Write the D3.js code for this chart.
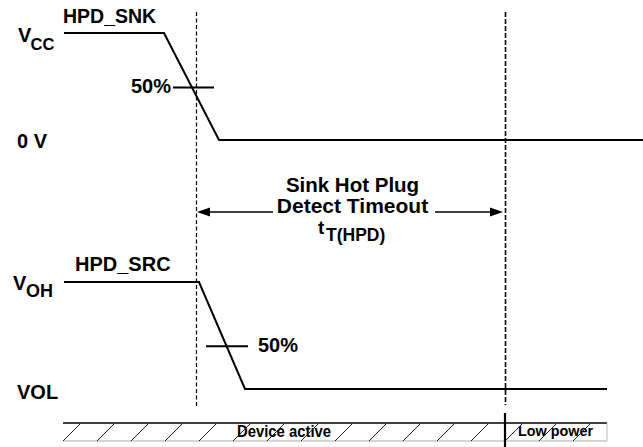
<!DOCTYPE html>
<html><head><meta charset="utf-8">
<script src="https://cdn.jsdelivr.net/npm/d3@7"></script>
<style>
html,body{margin:0;padding:0;background:#fff;}
svg{display:block;font-family:"Liberation Sans",Arial,sans-serif;font-weight:bold;}
</style></head>
<body>
<svg id="c" width="643" height="447"></svg>
<script>
// ---- data (time units, levels 0..1) ----
const snkTimes  = [0, 100, 155, 579];
const snkLevels = [1, 1, 0, 0];
const srcTimes  = [0, 135, 181, 543];
const srcLevels = [1, 1, 0, 0];
const refTimes  = [132, 441];           // dashed reference instants
const markStart = [109, 142];           // 50% marker ticks (snk, src)
const markEnd   = [150, 184];
const markLevel = [0.49, 0.40];
const phaseNames = ["Device active", "Low power"];
const phaseStart = [-1, 441];
const phaseEnd   = [441, 543];
const timeoutLabel = ["Sink Hot Plug", "Detect Timeout"];

const svg = d3.select("#c");
const x = d3.scaleLinear().domain([0, 580]).range([64, 644]);
const ySnk = d3.scaleLinear().domain([0, 1]).range([140, 33]);
const ySrc = d3.scaleLinear().domain([0, 1]).range([389, 282]);

const line = (ys) => d3.line().x(d => x(d[0])).y(d => ys(d[1]));

// waveforms
svg.append("path").datum(d3.zip(snkTimes, snkLevels))
  .attr("d", line(ySnk)).attr("fill", "none").attr("stroke", "#000").attr("stroke-width", 2);
svg.append("path").datum(d3.zip(srcTimes, srcLevels))
  .attr("d", line(ySrc)).attr("fill", "none").attr("stroke", "#000").attr("stroke-width", 2);

// dashed reference lines
svg.selectAll(".ref").data(refTimes).join("line")
  .attr("x1", d => Math.round(x(d)) + 0.5).attr("x2", d => Math.round(x(d)) + 0.5)
  .attr("y1", 12).attr("y2", (d, i) => i === 0 ? 407 : 405)
  .attr("stroke", "#000").attr("stroke-width", (d, i) => i === 0 ? 1.2 : 1.6)
  .attr("stroke-dasharray", (d, i) => i === 0 ? "4,2.5" : "5,2");

// 50% marker ticks
const yMarks = [ySnk, ySrc];
svg.selectAll(".mk").data(markLevel).join("line")
  .attr("x1", (d, i) => x(markStart[i])).attr("x2", (d, i) => x(markEnd[i]))
  .attr("y1", (d, i) => yMarks[i](d)).attr("y2", (d, i) => yMarks[i](d))
  .attr("stroke", "#000").attr("stroke-width", 2);

// labels
function txt(s, px, py, size, anchor) {
  return svg.append("text").attr("x", px).attr("y", py)
    .attr("font-size", size).attr("text-anchor", anchor || "start").text(s);
}
txt("HPD_SNK", 63, 23, 19.5);
txt("V", 18, 42, 20); txt("CC", 30.5, 50, 16.5);
txt("50%", x(markStart[0]) - 42, 93, 20);
txt("0 V", 17, 148, 20);
txt("HPD_SRC", 75, 271, 20);
txt("V", 13, 290, 20); txt("OH", 26, 297, 18);
txt("50%", x(markEnd[1]) + 10, 352, 20);
txt("VOL", 17, 399, 20);

// timeout arrow
const xa = x(refTimes[0]) + 1, xb = x(refTimes[1]) - 2, ya = 212;
svg.append("line").attr("x1", xa + 8).attr("x2", 273).attr("y1", ya).attr("y2", ya)
  .attr("stroke", "#000").attr("stroke-width", 1.5);
svg.append("line").attr("x1", 435).attr("x2", xb - 8).attr("y1", ya).attr("y2", ya)
  .attr("stroke", "#000").attr("stroke-width", 1.5);
svg.append("path").attr("d", `M${xa},${ya} L${xa + 13},${ya - 4.5} L${xa + 13},${ya + 4.5} Z`).attr("fill", "#000");
svg.append("path").attr("d", `M${xb},${ya} L${xb - 13},${ya - 4.5} L${xb - 13},${ya + 4.5} Z`).attr("fill", "#000");
const cx = (x(refTimes[0]) + x(refTimes[1])) / 2 + 2;
txt(timeoutLabel[0], cx, 191.5, 20.5, "middle");
txt(timeoutLabel[1], cx, 212.5, 21, "middle");
txt("t", 318, 234, 19);
txt("T(HPD)", 326, 241, 17.5);

// phase bar
const yTop = 423, yBot = 441;
const x0 = x(phaseStart[0]), x1 = x(phaseEnd[1]);
svg.append("line").attr("x1", x0).attr("x2", x1).attr("y1", yTop).attr("y2", yTop)
  .attr("stroke", "#000").attr("stroke-width", 1.5);
svg.append("line").attr("x1", x0).attr("x2", x1).attr("y1", yBot).attr("y2", yBot)
  .attr("stroke", "#aaa").attr("stroke-width", 1.2);
svg.append("line").attr("x1", x1).attr("x2", x1).attr("y1", yTop).attr("y2", yBot)
  .attr("stroke", "#bbb").attr("stroke-width", 1);
svg.selectAll(".ph").data(phaseNames).join("text")
  .attr("x", (d, i) => i === 0 ? 237 : 518).attr("y", (d, i) => i === 0 ? 437 : 435.5)
  .attr("font-size", (d, i) => i === 0 ? 16 : 15)
  .attr("textLength", (d, i) => i === 0 ? 94 : 75).attr("lengthAdjust", "spacingAndGlyphs")
  .text(d => d);
svg.selectAll(".hatch").data(d3.range(x0, x1 - 17, 34)).join("line")
  .attr("x1", d => d).attr("y1", yBot).attr("x2", d => d + 17).attr("y2", yTop + 1)
  .attr("stroke", "#222").attr("stroke-width", 1);
svg.append("line").attr("x1", x(phaseStart[1])).attr("x2", x(phaseStart[1]))
  .attr("y1", 413).attr("y2", 447).attr("stroke", "#000").attr("stroke-width", 2.2);
</script>
</body></html>
